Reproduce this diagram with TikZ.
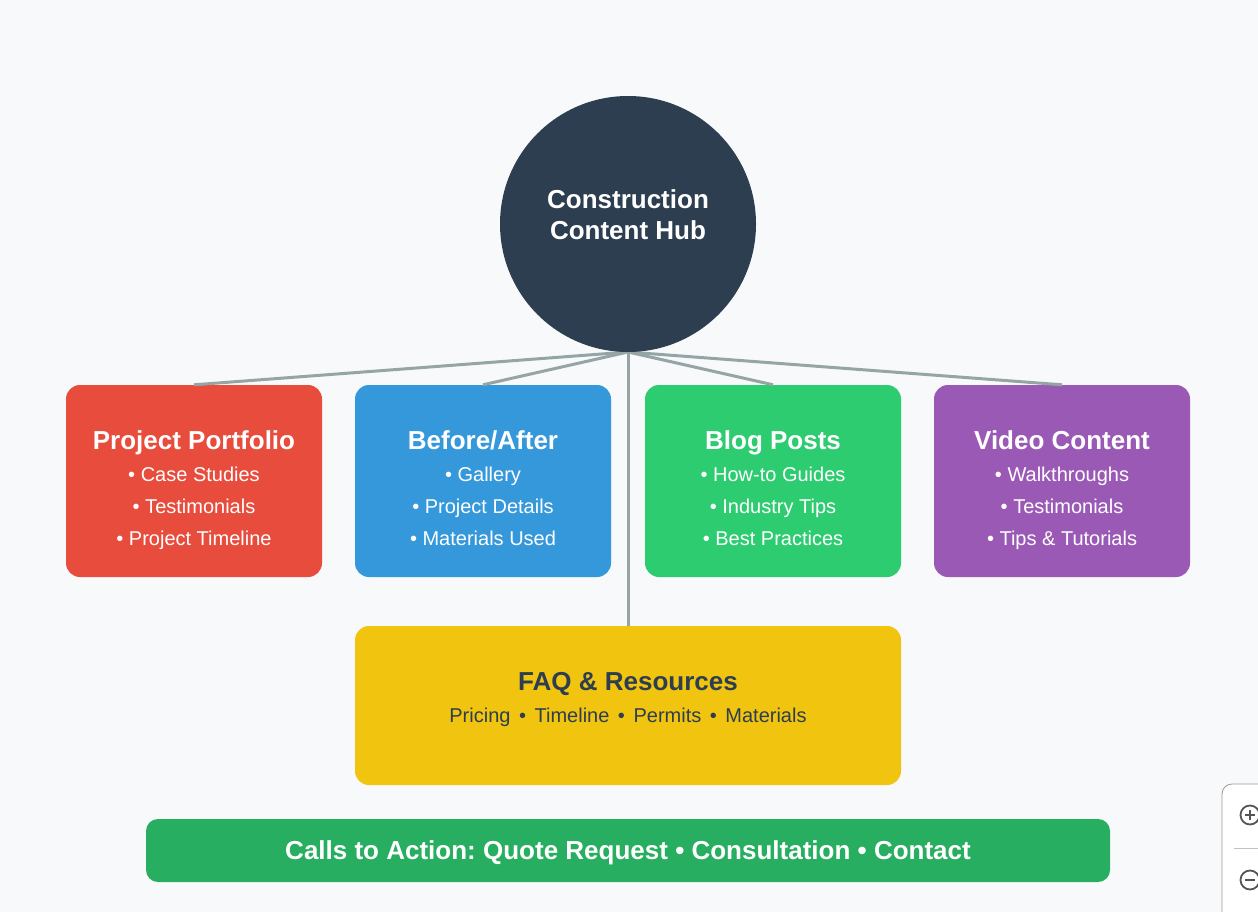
\documentclass[tikz,border=0pt]{standalone}
\usepackage{fontspec}
\setmainfont{Liberation Sans}
\frenchspacing
\definecolor{bg}{HTML}{F8F9FA}
\definecolor{hub}{HTML}{2C3E50}
\definecolor{line}{HTML}{95A5A6}
\definecolor{cred}{HTML}{E74C3C}
\definecolor{cblue}{HTML}{3498DB}
\definecolor{cgreen}{HTML}{2ECC71}
\definecolor{cpurple}{HTML}{9B59B6}
\definecolor{cyellow}{HTML}{F1C40F}
\definecolor{ccta}{HTML}{27AE60}
\definecolor{uigray}{HTML}{9A9A9A}
\definecolor{uiicon}{HTML}{555555}
\begin{document}
\begin{tikzpicture}[x=1pt,y=-1pt,
  card/.style={rounded corners=14pt, minimum width=256pt, minimum height=192pt, draw=none, inner sep=0pt},
  conn/.style={draw=line, line width=3pt},
  ctitle/.style={anchor=base, text=white, font=\fontsize{26}{30}\selectfont\bfseries},
  citem/.style={anchor=base, text=white, font=\fontsize{20}{24}\selectfont},
]
\fill[bg] (0,0) rectangle (1258,912);
\useasboundingbox (0,0) rectangle (1258,912);

\coordinate (hubbot) at (628,352);
\node[card, fill=cred] (pp) at (194,481) {};
\node[card, fill=cblue] (ba) at (483,481) {};
\node[card, fill=cgreen] (bp) at (773,481) {};
\node[card, fill=cpurple] (vc) at (1062,481) {};
\node[rounded corners=14pt, minimum width=546pt, minimum height=159pt, fill=cyellow, inner sep=0pt] (faq) at (628,705.5) {};
\draw[conn] (hubbot) -- (pp.north);
\draw[conn] (hubbot) -- (ba.north);
\draw[conn] (hubbot) -- (bp.north);
\draw[conn] (hubbot) -- (vc.north);
\draw[conn] (hubbot) -- (faq.north);

% hub
\node[circle, fill=hub, minimum size=256pt, inner sep=0pt] (hub) at (628,224) {};
\node[anchor=base, text=white, font=\fontsize{26}{30}\selectfont\bfseries] (hub-a) at (628,208) {Construction};
\node[anchor=base, text=white, font=\fontsize{26}{30}\selectfont\bfseries] (hub-b) at (628,240) {Content Hub};

% card texts
\foreach \n/\t/\a/\b/\c in {pp/Project Portfolio/Case Studies/Testimonials/Project Timeline,
  ba/Before\slash After/Gallery/Project Details/Materials Used,
  bp/Blog Posts/How-to Guides/Industry Tips/Best Practices,
  vc/Video Content/Walkthroughs/Testimonials/Tips \& Tutorials}{
  \path (\n.center) ++(0,-32) node[ctitle] (\n-t) {\t};
  \path (\n.center) ++(0,0.5) node[citem] (\n-a) {• \a};
  \path (\n.center) ++(0,32.5) node[citem] (\n-b) {• \b};
  \path (\n.center) ++(0,64.5) node[citem] (\n-c) {• \c};
}

\node[anchor=base, text=hub, font=\fontsize{26}{30}\selectfont\bfseries] (faq-t) at (628,690) {FAQ \& Resources};
\node[anchor=base, text=hub, font=\fontsize{20}{24}\selectfont] (faq-s) at (628,722)
  {Pricing\hspace{3pt} • \hspace{3pt}Timeline\hspace{3pt} • \hspace{3pt}Permits\hspace{3pt} • \hspace{3pt}Materials};

% CTA
\node[rounded corners=12pt, minimum width=964pt, minimum height=63pt, fill=ccta, inner sep=0pt] (cta) at (628,850.5) {};
\node[anchor=base, text=white, font=\fontsize{26}{30}\selectfont\bfseries] (cta-t) at (628,859)
  {Calls to Action: Quote Request • Consultation • Contact};

% zoom widget (partially visible)
\begin{scope}
\clip (0,0) rectangle (1258,912);
\fill[white, rounded corners=10pt] (1222,784) rectangle (1300,950);
\draw[uigray, line width=0.8pt, rounded corners=10pt] (1222,930) -- (1222,784) -- (1280,784);
\draw[uigray!60, line width=0.8pt] (1234,848) -- (1258,848);
\draw[uiicon, line width=1.8pt] (1250,815) circle (9.5pt);
\draw[uiicon, line width=1.8pt] (1245,815) -- (1255,815) (1250,810) -- (1250,820);
\draw[uiicon, line width=1.8pt] (1250,880) circle (9.5pt);
\draw[uiicon, line width=1.8pt] (1245,880) -- (1255,880);
\end{scope}
\end{tikzpicture}
\end{document}
